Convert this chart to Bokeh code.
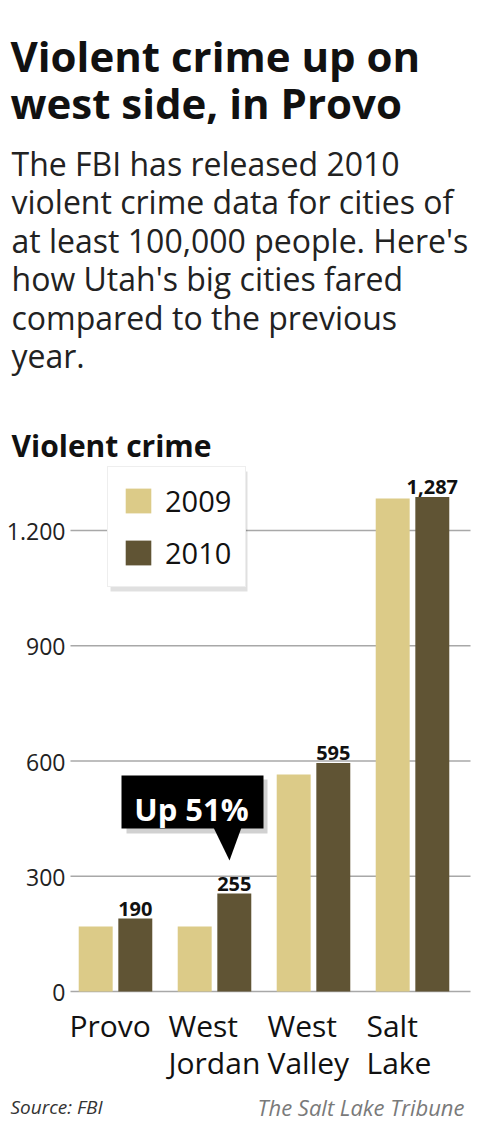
import numpy as np
from bokeh.plotting import figure
from bokeh.models import (ColumnDataSource, Range1d, Label, BoxAnnotation,
                          PolyAnnotation, Legend, LegendItem)
from bokeh.transform import dodge
from bokeh.core.properties import value
from bokeh.embed import file_html
from bokeh.resources import INLINE

# ---------------- data ----------------
city_line1 = ["Provo", "West", "West", "Salt"]
city_line2 = ["", "Jordan", "Valley", "Lake"]
crime_2009 = [169, 169, 565, 1283]
crime_2010 = [190, 255, 595, 1287]
series_names = ["2009", "2010"]
y_ticks = [0, 300, 600, 900, 1200]
y_tick_labels = ["0", "300", "600", "900", "1.200"]

title_lines = ["Violent crime up on", "west side, in Provo"]
subtitle_lines = ["The FBI has released 2010",
                  "violent crime data for cities of",
                  "at least 100,000 people. Here's",
                  "how Utah's big cities fared",
                  "compared to the previous",
                  "year."]
chart_heading = "Violent crime"
callout_text = "Up 51%"
source_text = "Source: FBI"
credit_text = "The Salt Lake Tribune"

C09 = "#dccb88"
C10 = "#605434"
FONT = "Open Sans"

# ---------------- layout helpers ----------------
W, H = 484, 1118
def sx(rx):
    return rx
def sy(ry):
    return H - ry

PXY = 461.0 / 1200.0          # pixels per crime unit
PXX = 99.0                    # pixels per city slot
y_start = -sy(991) / PXY
y_end = y_start + H / PXY
x_start = -sx(115) / PXX
x_end = x_start + W / PXX

p = figure(width=W, height=H, x_range=Range1d(x_start, x_end),
           y_range=Range1d(y_start, y_end), output_backend="svg",
           toolbar_location=None, min_border=0, outline_line_color=None,
           x_axis_location=None, y_axis_location=None)
p.grid.visible = False
p.background_fill_color = "white"
p.border_fill_color = "white"

# gridlines
gx0 = x_start + sx(70) / PXX
gx1 = x_start + sx(470) / PXX
grid_src = ColumnDataSource(dict(y=y_ticks, lab=y_tick_labels))
p.segment(x0=gx0, x1=gx1, y0="y", y1="y", source=grid_src,
          line_color="#a8a8a8", line_width=1.3)
p.text(x=gx0, y="y", text="lab", source=grid_src, x_offset=-5, y_offset=1,
       text_align="right", text_baseline="alphabetic",
       text_font=value(FONT), text_font_size="23px", text_color="#222222")

# bars
src = ColumnDataSource(dict(
    xi=list(range(len(city_line1))),
    y09=crime_2009, y10=crime_2010,
    lab10=[f"{v:,}" for v in crime_2010],
    l1=city_line1, l2=city_line2))

r09 = p.vbar(x=dodge("xi", -0.2, range=p.x_range), top="y09", bottom=0,
             width=0.343, source=src, fill_color=C09, line_color=None)
r10 = p.vbar(x=dodge("xi", 0.2, range=p.x_range), top="y10", bottom=0,
             width=0.343, source=src, fill_color=C10, line_color=None)

p.text(x=dodge("xi", 0.2, range=p.x_range), y="y10", text="lab10", source=src,
       y_offset=-10, text_align="center", text_baseline="alphabetic",
       text_font=value(FONT), text_font_style="bold", text_font_size="20px",
       text_color="#111111")

# category labels
p.text(x="xi", y=0, text="l1", source=src, x_offset=-46, y_offset=34,
       text_align="left", text_baseline="alphabetic",
       text_font=value(FONT), text_font_size="30px", text_color="#111111")
p.text(x="xi", y=0, text="l2", source=src, x_offset=-46, y_offset=71,
       text_align="left", text_baseline="alphabetic",
       text_font=value(FONT), text_font_size="30px", text_color="#111111")

# legend shadow + legend
p.add_layout(BoxAnnotation(left=sx(110), right=sx(247), top=sy(471), bottom=sy(591),
                           left_units="screen", right_units="screen",
                           top_units="screen", bottom_units="screen",
                           fill_color="#000000", fill_alpha=0.12, line_color=None))
legend = Legend(items=[LegendItem(label=series_names[0], renderers=[r09]),
                       LegendItem(label=series_names[1], renderers=[r10])],
                location=(sx(107), sy(587)), orientation="vertical",
                glyph_width=32, glyph_height=31, label_standoff=11,
                label_text_font=FONT, label_text_font_size="29px",
                label_text_color="#111111", padding=14, spacing=13, margin=0,
                border_line_color="#dddddd", border_line_width=1,
                background_fill_color="white", background_fill_alpha=1.0)
p.add_layout(legend, "center")

# callout
p.add_layout(BoxAnnotation(left=sx(126), right=sx(267), top=sy(779), bottom=sy(833),
                           left_units="screen", right_units="screen",
                           top_units="screen", bottom_units="screen",
                           fill_color="#000000", fill_alpha=0.18, line_color=None))
p.add_layout(BoxAnnotation(left=sx(121), right=sx(263), top=sy(775), bottom=sy(828),
                           left_units="screen", right_units="screen",
                           top_units="screen", bottom_units="screen",
                           fill_color="#000000", fill_alpha=1.0, line_color=None))
p.add_layout(PolyAnnotation(xs=[sx(213), sx(241), sx(229)], ys=[sy(827), sy(827), sy(860)],
                            xs_units="screen", ys_units="screen",
                            fill_color="#000000", fill_alpha=1.0, line_color=None))
p.add_layout(Label(x=sx(191), y=sy(808), x_units="screen", y_units="screen",
                   text=callout_text, text_align="center", text_baseline="alphabetic",
                   text_font=FONT, text_font_style="bold", text_font_size="31px",
                   text_color="white"))

# titles
for i, t in enumerate(title_lines):
    p.add_layout(Label(x=sx(10), y=sy(55 + 47 * i), x_units="screen", y_units="screen",
                       text=t, text_baseline="alphabetic", text_font=FONT,
                       text_font_style="bold", text_font_size="42px", text_color="#111111"))
for i, t in enumerate(subtitle_lines):
    p.add_layout(Label(x=sx(11), y=sy(163 + 38.4 * i), x_units="screen", y_units="screen",
                       text=t, text_baseline="alphabetic", text_font=FONT,
                       text_font_size="32px", text_color="#222222"))
p.add_layout(Label(x=sx(11), y=sy(445), x_units="screen", y_units="screen",
                   text=chart_heading, text_baseline="alphabetic", text_font=FONT,
                   text_font_style="bold", text_font_size="30px", text_color="#111111"))
p.add_layout(Label(x=sx(10), y=sy(1106), x_units="screen", y_units="screen",
                   text=source_text, text_baseline="alphabetic", text_font=FONT,
                   text_font_style="italic", text_font_size="19px", text_color="#333333"))
p.add_layout(Label(x=sx(464), y=sy(1106), x_units="screen", y_units="screen",
                   text=credit_text, text_align="right", text_baseline="alphabetic",
                   text_font=FONT, text_font_style="italic", text_font_size="22px",
                   text_color="#7a7a7a"))

open("out.html", "w").write(file_html(p, INLINE))
